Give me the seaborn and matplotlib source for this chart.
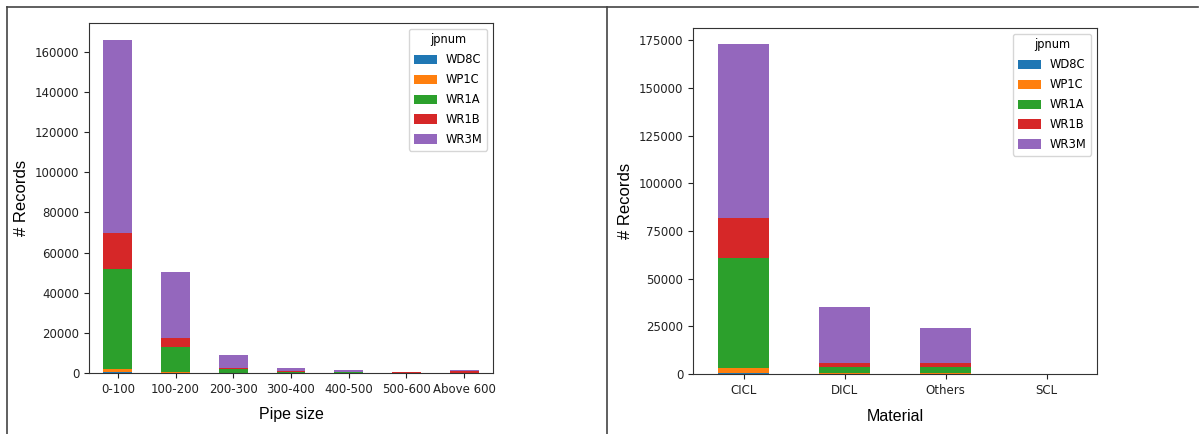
import matplotlib
matplotlib.use("Agg")
import matplotlib.pyplot as plt
from matplotlib.patches import Patch
from matplotlib.lines import Line2D
import numpy as np
import pandas as pd
import seaborn as sns

# ---- data -------------------------------------------------------------
jpnum_levels = ["WD8C", "WP1C", "WR1A", "WR1B", "WR3M"]
jpnum_colors = ["#1f77b4", "#ff7f0e", "#2ca02c", "#d62728", "#9467bd"]

pipe_sizes = ["0-100", "100-200", "200-300", "300-400", "400-500", "500-600", "Above 600"]
pipe_wd8c = [500, 100, 50, 20, 10, 5, 10]
pipe_wp1c = [1300, 400, 150, 50, 30, 10, 20]
pipe_wr1a = [49800, 12300, 1800, 600, 400, 150, 150]
pipe_wr1b = [18200, 4600, 600, 100, 100, 100, 1000]
pipe_wr3m = [96300, 33000, 6300, 1700, 900, 400, 200]

materials = ["CICL", "DICL", "Others", "SCL"]
mat_wd8c = [600, 150, 100, 0]
mat_wp1c = [2400, 250, 200, 0]
mat_wr1a = [57800, 3250, 3350, 10]
mat_wr1b = [21200, 1900, 1900, 5]
mat_wr3m = [90750, 29600, 18450, 20]


def long_table(cats, series):
    rows = []
    for level, values in zip(jpnum_levels, series):
        for c, v in zip(cats, values):
            rows.append({"cat": c, "jpnum": level, "count": v})
    return pd.DataFrame(rows)


def stacked_bars(ax, cats, series, xlabel, xpad):
    df = long_table(cats, series)
    palette = dict(zip(jpnum_levels, jpnum_colors))
    # seaborn stacks the last hue level at the bottom
    sns.histplot(data=df, x="cat", weights="count", hue="jpnum",
                 hue_order=jpnum_levels[::-1], palette=palette,
                 multiple="stack", discrete=True, shrink=0.5,
                 alpha=1, linewidth=0, legend=False, ax=ax)
    totals = np.sum(np.array(series), axis=0)
    ax.set_xlim(-0.5, len(cats) - 0.5)
    ax.set_ylim(0, totals.max() * 1.05)
    ax.set_xlabel(xlabel, fontsize=11.5, family="Liberation Sans", labelpad=xpad)
    ax.set_ylabel("# Records", fontsize=12, family="Liberation Sans", labelpad=4)
    ax.tick_params(labelsize=8.5, colors="#222222")
    for side in ax.spines.values():
        side.set_edgecolor("#333333")
    handles = [Patch(facecolor=c, edgecolor="none") for c in jpnum_colors]
    ax.legend(handles, jpnum_levels, title="jpnum", loc="upper right",
              fontsize=8.3, title_fontsize=8.3, labelspacing=0.6,
              handleheight=0.85)


fig = plt.figure(figsize=(12.02, 4.34), dpi=100)
ax1 = fig.add_axes([89 / 1202, 61 / 434, 404 / 1202, 350 / 434])
ax2 = fig.add_axes([693 / 1202, 60 / 434, 404 / 1202, 346 / 434])

stacked_bars(ax1, pipe_sizes,
             [pipe_wd8c, pipe_wp1c, pipe_wr1a, pipe_wr1b, pipe_wr3m], "Pipe size", 8)
stacked_bars(ax2, materials,
             [mat_wd8c, mat_wp1c, mat_wr1a, mat_wr1b, mat_wr3m], "Material", 9)

# panel frame lines
frame_kw = dict(color="#444444", linewidth=1.2, transform=fig.transFigure)
fig.add_artist(Line2D([7 / 1202, 1198 / 1202], [1 - 7 / 434, 1 - 7 / 434], **frame_kw))
fig.add_artist(Line2D([7 / 1202, 7 / 1202], [0, 1 - 7 / 434], **frame_kw))
fig.add_artist(Line2D([607 / 1202, 607 / 1202], [0, 1 - 7 / 434], **frame_kw))

fig.savefig("out.png", dpi=100)
